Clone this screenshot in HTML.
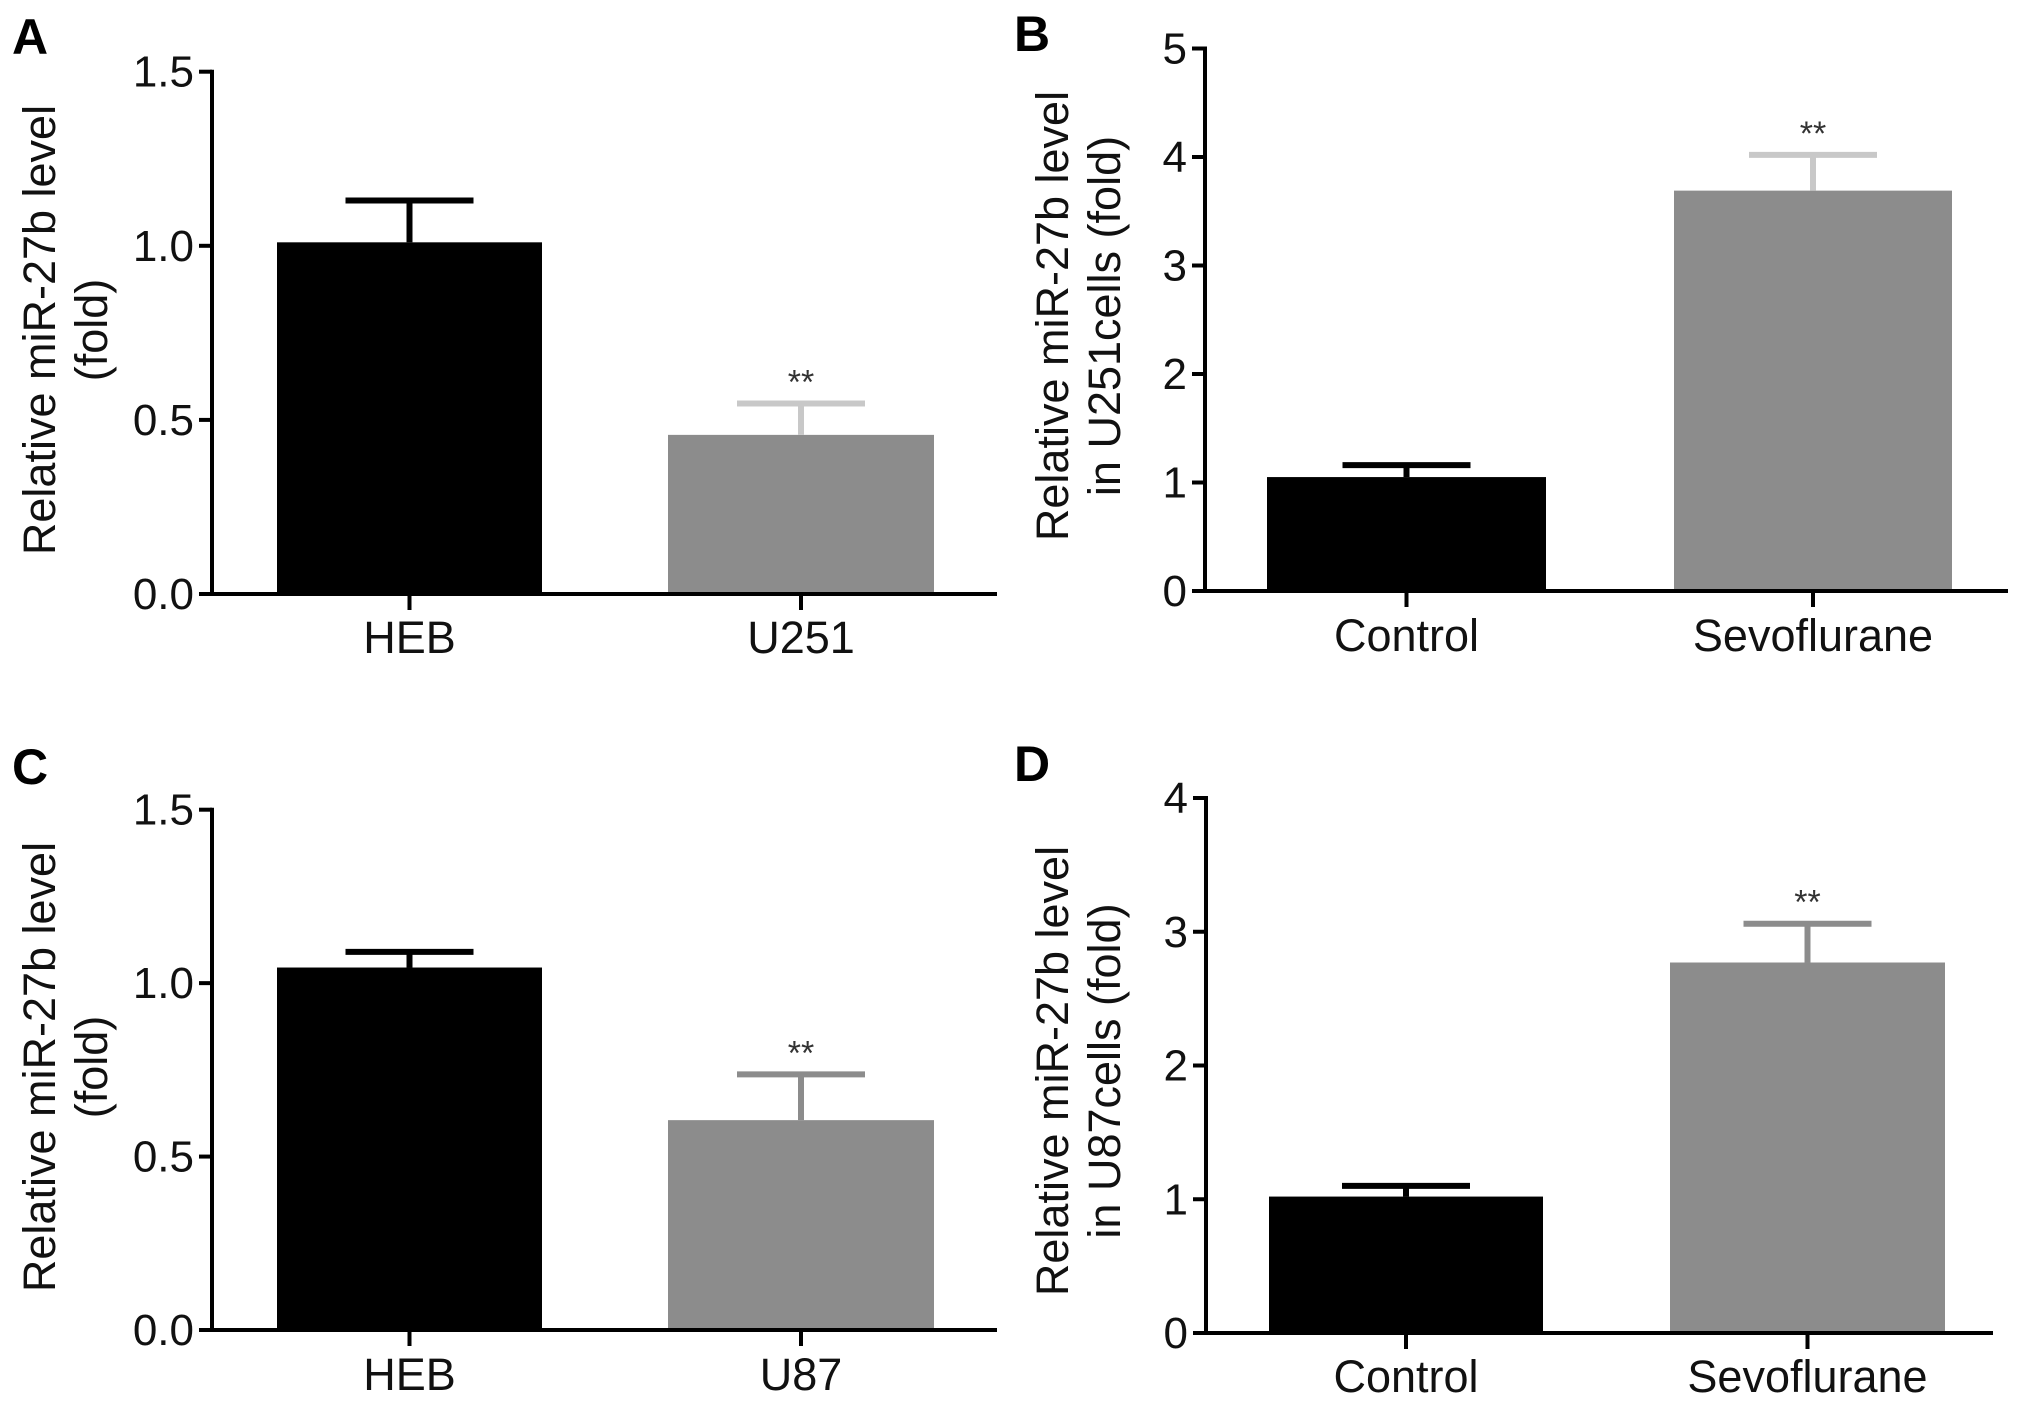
<!DOCTYPE html>
<html><head><meta charset="utf-8"><style>
html,body{margin:0;padding:0;background:#fff;}
svg{display:block;}
.tick{font-family:"Liberation Sans",sans-serif;font-size:44px;fill:#111;}
.cat{font-family:"Liberation Sans",sans-serif;font-size:45px;fill:#111;}
.ttl{font-family:"Liberation Sans",sans-serif;font-size:45px;fill:#111;}
.let{font-family:"Liberation Sans",sans-serif;font-size:50px;font-weight:bold;fill:#000;}
.star{font-family:"Liberation Sans",sans-serif;font-size:34px;fill:#333;}
</style></head><body>
<svg id="fig" width="2031" height="1407" viewBox="0 0 2031 1407" xmlns="http://www.w3.org/2000/svg"></svg>
<script>
const aCategories=["HEB","U251"]; const aValues=[1.01,0.457]; const aErrors=[0.12,0.09]; const aTicks=[0,0.5,1.0,1.5]; const aTickLabels=["0.0","0.5","1.0","1.5"];
const bCategories=["Control","Sevoflurane"]; const bValues=[1.05,3.69]; const bErrors=[0.11,0.33]; const bTicks=[0,1,2,3,4,5]; const bTickLabels=["0","1","2","3","4","5"];
const cCategories=["HEB","U87"]; const cValues=[1.045,0.605]; const cErrors=[0.045,0.132]; const cTicks=[0,0.5,1.0,1.5]; const cTickLabels=["0.0","0.5","1.0","1.5"];
const dCategories=["Control","Sevoflurane"]; const dValues=[1.02,2.77]; const dErrors=[0.08,0.29]; const dTicks=[0,1,2,3,4]; const dTickLabels=["0","1","2","3","4"];
const sig=["","**"];

const NS="http://www.w3.org/2000/svg";
const svg=document.getElementById('fig');
function mk(tag,attrs,parent,text){const e=document.createElementNS(NS,tag);for(const k in attrs)e.setAttribute(k,attrs[k]);if(text!==undefined)e.textContent=text;(parent||svg).appendChild(e);return e;}

function panel(p){
  const g=mk('g',{});
  
  
  const ys=v=>p.y0-(v/p.max)*(p.y0-p.yTop);
  const lt=mk('text',{x:p.letX,y:p.letY,class:'let'},g,p.id.toUpperCase());
  
  
  p.cats.forEach((c,i)=>{
    const [x1,x2]=p.bx[i];
    const top=ys(p.vals[i]);
    const b=mk('rect',{x:x1,y:top,width:x2-x1,height:p.y0-top,fill:p.colors[i]},g);
    
    
    const cx=(x1+x2)/2, et=ys(p.vals[i]+p.errs[i]);
    const eg=mk('g',{stroke:p.errColors[i]},g);
    
    
    mk('line',{x1:cx,x2:cx,y1:top,y2:et,'stroke-width':6},eg);
    mk('line',{x1:cx-64,x2:cx+64,y1:et,y2:et,'stroke-width':6},eg);
    if(sig[i]){const s=mk('text',{x:cx,y:et-10,class:'star','text-anchor':'middle'},g,sig[i]);
      
      }
    mk('line',{x1:cx,x2:cx,y1:p.y0,y2:p.y0+16,stroke:'#000','stroke-width':4},g);
    const cl=mk('text',{x:cx,y:p.catY,class:'cat','text-anchor':'middle'},g,c);
    
    
  });
  const ya=mk('line',{x1:p.ax,x2:p.ax,y1:p.yTop-2,y2:p.y0+2,stroke:'#000','stroke-width':4},g);
  
  
  const xa=mk('line',{x1:p.ax-12,x2:p.xEnd,y1:p.y0,y2:p.y0,stroke:'#000','stroke-width':4},g);
  
  
  p.ticks.forEach((t,i)=>{
    const y=ys(t);
    mk('line',{x1:p.ax-13,x2:p.ax,y1:y,y2:y,stroke:'#000','stroke-width':4},g);
    const tl=mk('text',{x:p.ax-18,y:y+15,class:'tick','text-anchor':'end'},g,p.tickLabels[i]);
    
    
  });
  const tt=mk('text',{class:'ttl','text-anchor':'middle',transform:`translate(${p.tx},${p.tyc}) rotate(-90)`},g);
  
  
  p.title.forEach((line,i)=>mk('tspan',{x:0,y:i*52},tt,line));
}
const dark=['#000','#8c8c8c'];
panel({id:'a',letX:12,letY:54,ax:212,yTop:71.7,y0:594,max:1.5,xEnd:997,bx:[[277,542],[668,934]],cats:aCategories,vals:aValues,errs:aErrors,ticks:aTicks,tickLabels:aTickLabels,colors:dark,errColors:['#000','#c8c8c8'],catY:653,tx:55,tyc:330,title:["Relative miR-27b level","(fold)"]});
panel({id:'b',letX:1014,letY:51,ax:1205,yTop:48.5,y0:591,max:5,xEnd:2008,bx:[[1267,1546],[1674,1952]],cats:bCategories,vals:bValues,errs:bErrors,ticks:bTicks,tickLabels:bTickLabels,colors:dark,errColors:['#000','#c8c8c8'],catY:651,tx:1068,tyc:316,title:["Relative miR-27b level","in U251cells (fold)"]});
panel({id:'c',letX:12,letY:784,ax:212,yTop:809.7,y0:1330,max:1.5,xEnd:997,bx:[[277,542],[668,934]],cats:cCategories,vals:cValues,errs:cErrors,ticks:cTicks,tickLabels:cTickLabels,colors:dark,errColors:['#000','#8c8c8c'],catY:1390,tx:55,tyc:1067,title:["Relative miR-27b level","(fold)"]});
panel({id:'d',letX:1014,letY:781,ax:1206,yTop:798,y0:1333,max:4,xEnd:1993,bx:[[1269,1543],[1670,1945]],cats:dCategories,vals:dValues,errs:dErrors,ticks:dTicks,tickLabels:dTickLabels,colors:dark,errColors:['#000','#8c8c8c'],catY:1392,tx:1068,tyc:1071,title:["Relative miR-27b level","in U87cells (fold)"]});
</script>
</body></html>
